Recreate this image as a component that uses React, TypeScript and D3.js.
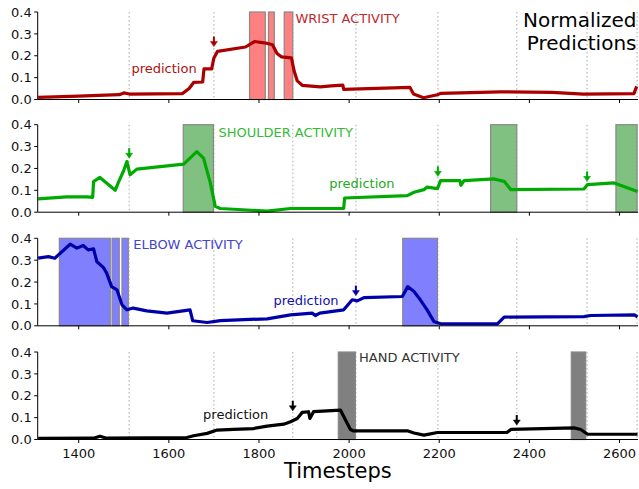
import React from "react";
import * as d3 from "d3";

// event timesteps (dotted lines)
const events = [1512, 1700, 1875, 2015, 2197, 2372, 2528, 2639];
const xTicks = [1400, 1600, 1800, 2000, 2200, 2400, 2600];
const yTicks = [0, 0.1, 0.2, 0.3, 0.4];

const wrist: [number, number][] = [
  [1310, 0.01], [1400, 0.015], [1490, 0.022], [1500, 0.03], [1512, 0.025], [1630, 0.027],
  [1645, 0.05], [1655, 0.078], [1675, 0.08], [1678, 0.14], [1695, 0.14], [1700, 0.19],
  [1708, 0.22], [1770, 0.24], [1790, 0.265], [1815, 0.258], [1830, 0.25], [1840, 0.21],
  [1850, 0.195], [1872, 0.19], [1878, 0.13], [1885, 0.085], [1896, 0.065], [1936, 0.058],
  [1960, 0.062], [1986, 0.066], [1988, 0.046], [2135, 0.055], [2143, 0.025], [2165, 0.008],
  [2196, 0.022], [2203, 0.028], [2336, 0.035], [2450, 0.033], [2520, 0.025], [2632, 0.027],
  [2638, 0.06],
];

const shoulder: [number, number][] = [
  [1310, 0.061], [1373, 0.07], [1418, 0.07], [1431, 0.068], [1433, 0.14], [1447, 0.159],
  [1481, 0.1], [1488, 0.136], [1499, 0.186], [1507, 0.232], [1514, 0.171], [1529, 0.197],
  [1633, 0.22], [1662, 0.277], [1677, 0.247], [1692, 0.134], [1703, 0.027], [1714, 0.017],
  [1818, 0.005], [1870, 0.017], [1988, 0.017], [1990, 0.065], [2129, 0.076], [2144, 0.091],
  [2166, 0.103], [2173, 0.115], [2196, 0.108], [2203, 0.144], [2246, 0.144], [2248, 0.123],
  [2255, 0.144], [2322, 0.152], [2344, 0.141], [2359, 0.103], [2521, 0.106], [2529, 0.126],
  [2588, 0.134], [2640, 0.095],
];

const elbow: [number, number][] = [
  [1310, 0.309], [1333, 0.316], [1347, 0.309], [1355, 0.324], [1381, 0.373], [1396, 0.355],
  [1410, 0.367], [1421, 0.347], [1433, 0.352], [1440, 0.294], [1455, 0.266], [1462, 0.241],
  [1473, 0.179], [1485, 0.164], [1496, 0.096], [1507, 0.073], [1521, 0.081], [1551, 0.068],
  [1596, 0.058], [1647, 0.073], [1653, 0.023], [1685, 0.015], [1714, 0.024], [1818, 0.032],
  [1870, 0.05], [1918, 0.058], [1925, 0.047], [1935, 0.058], [1988, 0.073], [2007, 0.119],
  [2018, 0.114], [2033, 0.129], [2118, 0.134], [2130, 0.179], [2144, 0.157], [2158, 0.119],
  [2173, 0.073], [2188, 0.02], [2203, 0.009], [2329, 0.009], [2344, 0.04], [2521, 0.042],
  [2536, 0.047], [2633, 0.05], [2640, 0.04],
];

const hand: [number, number][] = [
  [1310, 0.005], [1433, 0.006], [1447, 0.015], [1462, 0.006], [1640, 0.009], [1655, 0.017],
  [1685, 0.028], [1707, 0.043], [1744, 0.046], [1788, 0.05], [1818, 0.061], [1855, 0.07],
  [1870, 0.081], [1885, 0.096], [1896, 0.124], [1910, 0.127], [1913, 0.096], [1921, 0.127],
  [1981, 0.134], [1992, 0.089], [2003, 0.046], [2010, 0.039], [2129, 0.04], [2144, 0.03],
  [2166, 0.02], [2196, 0.032], [2351, 0.033], [2359, 0.046], [2499, 0.053], [2514, 0.046],
  [2529, 0.024], [2640, 0.024],
];

// activity intervals [start, end]
const wristActive = [[1779, 1814], [1821, 1834], [1856, 1875]];
const shoulderActive = [[1632, 1699], [2314, 2372], [2592, 2639]];
const elbowActive = [[1357, 1470], [1474, 1490], [1496, 1510], [2119, 2196]];
const handActive = [[1976, 2014], [2493, 2525]];

// arrows [timestep, tip value]
const wristArrows = [[1700, 0.242]];
const shoulderArrows = [[1512, 0.247], [2197, 0.164], [2528, 0.141]];
const elbowArrows = [[2015, 0.138]];
const handArrows = [[1875, 0.131], [2372, 0.066]];

const panels = [
  { name: "WRIST ACTIVITY", data: wrist, active: wristActive, arrows: wristArrows, top: 12,
    line: "#aa0000", box: "#ff8080", label: "#c0282d", pred: "#b01010",
    labelAt: [1881, 0.35], predAt: [1517, 0.123] },
  { name: "SHOULDER ACTIVITY", data: shoulder, active: shoulderActive, arrows: shoulderArrows, top: 124.7,
    line: "#00aa00", box: "#80c080", label: "#33bb33", pred: "#22aa22",
    labelAt: [1710, 0.345], predAt: [1956, 0.112] },
  { name: "ELBOW ACTIVITY", data: elbow, active: elbowActive, arrows: elbowArrows, top: 238.3,
    line: "#0000aa", box: "#8080ff", label: "#4444cc", pred: "#1111aa",
    labelAt: [1521, 0.352], predAt: [1832, 0.096] },
  { name: "HAND ACTIVITY", data: hand, active: handActive, arrows: handArrows, top: 352,
    line: "#000000", box: "#808080", label: "#333333", pred: "#111111",
    labelAt: [2022, 0.353], predAt: [1676, 0.092] },
];

const W = 639, H = 489;
const left = 37.7, right = 638, ph = 87.5;
const font = "DejaVu Sans, sans-serif";

const x = d3.scaleLinear().domain([1309, 2641]).range([left, right]);

function Panel({ p, last }: { p: any; last: boolean }) {
  const y = d3.scaleLinear().domain([0, 0.4]).range([p.top + ph, p.top]);
  const line = d3.line<[number, number]>().x((d) => x(d[0])).y((d) => y(d[1]));
  return (
    <g>
      {events.map((e) => (
        <line key={"e" + e} x1={x(e)} x2={x(e)} y1={y(0.4)} y2={y(0)}
          stroke="#b8b8b8" strokeWidth={1.2} strokeDasharray="1.5,2.5" />
      ))}
      {p.active.map((a: number[], i: number) => (
        <rect key={"a" + i} x={x(a[0])} y={y(0.4)} width={x(a[1]) - x(a[0])} height={y(0) - y(0.4)}
          fill={p.box} stroke="#888" strokeWidth={1.2} />
      ))}
      <path d={line(p.data) || ""} fill="none" stroke={p.line} strokeWidth={3.2} strokeLinejoin="round" />
      {p.arrows.map((a: number[], i: number) => {
        const ax = x(a[0]), ay = y(a[1]);
        return (
          <g key={"ar" + i} fill={p.line} stroke={p.line}>
            <line x1={ax} x2={ax} y1={ay - 10} y2={ay - 4} strokeWidth={2} />
            <path d={`M${ax - 3.5},${ay - 5} L${ax + 3.5},${ay - 5} L${ax},${ay} Z`} strokeWidth={0.5} />
          </g>
        );
      })}
      <text x={x(p.labelAt[0])} y={y(p.labelAt[1])} fill={p.label} fontSize={13} fontFamily={font}>{p.name}</text>
      <text x={x(p.predAt[0])} y={y(p.predAt[1])} fill={p.pred} fontSize={13} fontFamily={font}>prediction</text>
      {/* spines */}
      <line x1={left} x2={left} y1={y(0.4)} y2={y(0)} stroke="#000" strokeWidth={1} />
      <line x1={left} x2={right} y1={y(0)} y2={y(0)} stroke="#000" strokeWidth={1} />
      {yTicks.map((t) => (
        <g key={"y" + t}>
          <line x1={left - 3.5} x2={left} y1={y(t)} y2={y(t)} stroke="#000" />
          <text x={left - 6} y={y(t)} dy="0.36em" textAnchor="end" fontSize={13} fontFamily={font} fill="#111">
            {d3.format(".1f")(t)}
          </text>
        </g>
      ))}
      {xTicks.map((t) => (
        <g key={"x" + t}>
          <line x1={x(t)} x2={x(t)} y1={y(0)} y2={y(0) + 3.5} stroke="#000" />
          {last && (
            <text x={x(t)} y={y(0) + 18.5} textAnchor="middle" fontSize={13} fontFamily={font} fill="#111">{t}</text>
          )}
        </g>
      ))}
    </g>
  );
}

export default function App() {
  return (
    <svg width={W} height={H} style={{ position: "absolute", left: 0, top: 0, background: "#fff" }}>
      {panels.map((p, i) => (
        <Panel key={p.name} p={p} last={i === panels.length - 1} />
      ))}
      <text x={636.5} y={27} textAnchor="end" fontSize={20} fontFamily={font}>Normalized</text>
      <text x={636.5} y={50} textAnchor="end" fontSize={20} fontFamily={font}>Predictions</text>
      <text x={(left + right) / 2} y={478} textAnchor="middle" fontSize={21} fontFamily={font}>Timesteps</text>
    </svg>
  );
}
